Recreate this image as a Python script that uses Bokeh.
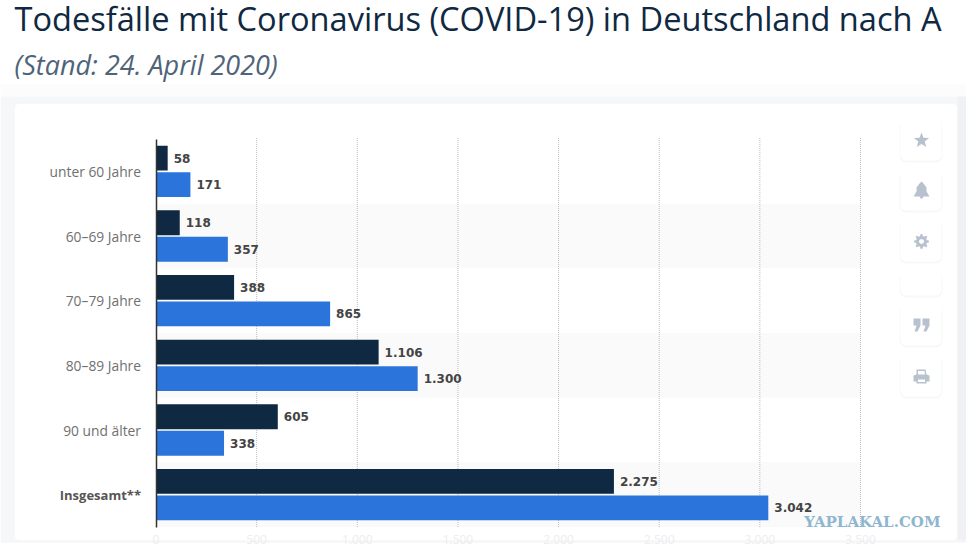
import math
from bokeh.plotting import figure
from bokeh.models import Range1d, Label, BoxAnnotation, PolyAnnotation, ColumnDataSource, FixedTicker
from bokeh.embed import file_html
from bokeh.resources import INLINE

TITLE = "Todesfälle mit Coronavirus (COVID-19) in Deutschland nach A"
SUBTITLE = "(Stand: 24. April 2020)"
WATERMARK = "YAPLAKAL.COM"
categories = ["unter 60 Jahre", "60–69 Jahre", "70–79 Jahre", "80–89 Jahre", "90 und älter", "Insgesamt**"]
series_dark = [58, 118, 388, 1106, 605, 2275]
series_blue = [171, 357, 865, 1300, 338, 3042]
x_ticks = [0, 500, 1000, 1500, 2000, 2500, 3000, 3500]
x_tick_labels = ["0", "500", "1.000", "1.500", "2.000", "2.500", "3.000", "3.500"]

DARK = "#0f2942"
BLUE = "#2a74dc"
ICON = "#b8c2cf"
W, H = 966, 551
LEFT, TOP, RIGHT, BOTTOM = 155.5, 138.5, 860, 526.5  # where the axes' extent sits on the canvas
n = len(categories)
row_pos = list(range(n - 1, -1, -1))  # top row first
x_scale = (RIGHT - LEFT) / x_ticks[-1]
y_scale = (BOTTOM - TOP) / n
low = -0.5


def fig_fmt(v):
    return f"{v:,}".replace(",", ".")


p = figure(width=W, height=H, output_backend="svg", toolbar_location=None,
           x_range=Range1d(-LEFT / x_scale, (W - LEFT) / x_scale),
           y_range=Range1d(low - (H - BOTTOM) / y_scale, low + n + TOP / y_scale),
           min_border=0, background_fill_color="white", border_fill_color="white", outline_line_color=None)


def sx(px):
    return px


def sy(py):
    return H - py


def box(l, t, r, b, **kw):
    p.add_layout(BoxAnnotation(left=sx(l), right=sx(r), top=sy(t), bottom=sy(b),
                               left_units="screen", right_units="screen", top_units="screen", bottom_units="screen",
                               level="underlay", **kw))


def poly(pts, color=ICON):
    p.add_layout(PolyAnnotation(xs=[sx(a) for a, _ in pts], ys=[sy(b) for _, b in pts],
                                xs_units="screen", ys_units="screen", fill_color=color, fill_alpha=1,
                                line_color=None, level="overlay"))


# page tint and card
box(0, 84, W, 96, fill_color="#fcfcfd", fill_alpha=1, line_color=None)
box(0, 96, W, 540, fill_color="#f6f7f9", fill_alpha=1, line_color=None)
box(957, 96, W, 540, fill_color="#eff1f4", fill_alpha=1, line_color=None)
box(0, 540, W, 542, fill_color="#f4f5f6", fill_alpha=1, line_color=None)
box(14, 103, 957, 540, fill_color="white", fill_alpha=1, line_color="#f1f2f4", line_width=1, border_radius=5)

# action buttons
for t, b in [(119, 160), (170, 210), (220, 261), (271, 295), (304, 345), (355, 396)]:
    box(899, t + 1, 942, b + 2, fill_color="#f0f2f5", fill_alpha=0.5, line_color=None, border_radius=7)
    box(900, t, 941, b, fill_color="white", fill_alpha=1, line_color=None, border_radius=6)

# alternating row bands
band = ColumnDataSource(dict(y=row_pos[1::2], right=[x_ticks[-1]] * 3))
p.hbar(y="y", left=0, right="right", height=1, source=band, fill_color="#fafafa", line_color=None)

# dotted vertical rules at the x ticks
rules = ColumnDataSource(dict(x=x_ticks[1:], y0=[low] * 7, y1=[low + n + 2 / y_scale] * 7))
p.segment(x0="x", x1="x", y0="y0", y1="y1", source=rules, line_color="#bdbdbd", line_width=1, line_dash="1 1")

y_dark = [r + 0.205 for r in row_pos]
y_blue = [r - 0.205 for r in row_pos]
src = ColumnDataSource(dict(y_dark=y_dark, y_blue=y_blue, dark=series_dark, blue=series_blue,
                            dark_l=[fig_fmt(v) for v in series_dark], blue_l=[fig_fmt(v) for v in series_blue]))
p.hbar(y="y_dark", left=0, right="dark", height=0.385, source=src, fill_color=DARK, line_color=None)
p.hbar(y="y_blue", left=0, right="blue", height=0.385, source=src, fill_color=BLUE, line_color=None)
for yy, col, lab in [("y_dark", "dark", "dark_l"), ("y_blue", "blue", "blue_l")]:
    p.text(x=col, y=yy, text=lab, source=src, x_offset=6, text_align="left", text_baseline="middle",
           text_font={"value": "DejaVu Sans"}, text_font_style="bold", text_font_size="12px", text_color="#444444")

# axes, pinned inside the canvas
xa = p.xaxis[0]
xa.fixed_location = low
xa.ticker = FixedTicker(ticks=x_ticks)
xa.major_label_overrides = {t: s for t, s in zip(x_ticks, x_tick_labels)}
xa.axis_line_color = None
xa.major_tick_line_color = None
xa.minor_tick_line_color = None
xa.major_label_standoff = 2
xa.major_label_text_font = "Open Sans"
xa.major_label_text_font_size = "12px"
xa.major_label_text_color = "#eceef0"

ya = p.yaxis[0]
ya.fixed_location = 0
ya.bounds = (low, low + n)
ya.ticker = FixedTicker(ticks=row_pos)
ya.major_label_overrides = {r: c for r, c in zip(row_pos[:-1], categories[:-1])}
ya.major_label_overrides[row_pos[-1]] = " "
ya.axis_line_color = "#333333"
ya.axis_line_width = 1.5
ya.major_tick_line_color = None
ya.minor_tick_line_color = None
ya.major_label_standoff = 9
ya.major_label_text_font = "Open Sans"
ya.major_label_text_font_size = "13.8px"
ya.major_label_text_color = "#707070"

p.xgrid.visible = False
p.ygrid.visible = False

# bold category label
p.add_layout(Label(x=0, y=row_pos[-1], x_offset=-15, text=categories[-1], text_align="right", text_baseline="middle",
                   text_font="Open Sans", text_font_style="bold", text_font_size="13px", text_color="#555555"))

# title, subtitle, watermark
p.add_layout(Label(x=sx(14), y=sy(18), x_units="screen", y_units="screen", text=TITLE, text_baseline="middle",
                   text_font="Open Sans", text_font_size="32.6px", text_color=DARK))
p.add_layout(Label(x=sx(14), y=sy(64), x_units="screen", y_units="screen", text=SUBTITLE, text_baseline="middle",
                   text_font="Open Sans", text_font_style="italic", text_font_size="27px", text_color="#4f6478"))
p.add_layout(Label(x=sx(940), y=sy(521), x_units="screen", y_units="screen", text=WATERMARK, text_align="right",
                   text_baseline="middle", text_font="DejaVu Serif", text_font_style="bold", text_font_size="15px",
                   text_color="#8fb6cf"))

# icons
cx, cy = 921, 140
poly([(cx + (8 if i % 2 == 0 else 3.4) * math.sin(i * math.pi / 5), cy - (8 if i % 2 == 0 else 3.4) * math.cos(i * math.pi / 5)) for i in range(10)])
cx, cy = 921, 190
poly([(cx - 8, cy + 6), (cx - 5, cy + 1), (cx - 5, cy - 3), (cx - 2, cy - 7), (cx, cy - 9), (cx + 2, cy - 7), (cx + 5, cy - 3),
      (cx + 5, cy + 1), (cx + 8, cy + 6), (cx + 2, cy + 6), (cx + 1, cy + 8), (cx - 1, cy + 8), (cx - 2, cy + 6)])
cx, cy = 921, 241
poly([(cx + (7.5 if i % 4 < 2 else 5.5) * math.sin((i - 0.5) * math.pi / 16), cy - (7.5 if i % 4 < 2 else 5.5) * math.cos((i - 0.5) * math.pi / 16)) for i in range(32)])
poly([(cx + 2.6 * math.sin(i * math.pi / 4), cy - 2.6 * math.cos(i * math.pi / 4)) for i in range(8)], "white")
cx, cy = 921, 324
for dx in (-8, 1):
    poly([(cx + dx, cy - 6), (cx + dx + 7, cy - 6), (cx + dx + 7, cy + 1), (cx + dx + 4, cy + 7), (cx + dx + 1, cy + 7), (cx + dx + 3, cy + 1), (cx + dx, cy + 1)])
cx, cy = 921, 376
poly([(cx - 5, cy - 7), (cx + 4, cy - 7), (cx + 5, cy - 2), (cx + 8, cy - 1), (cx + 8, cy + 5), (cx + 5, cy + 5), (cx + 5, cy + 7),
      (cx - 5, cy + 7), (cx - 5, cy + 5), (cx - 8, cy + 5), (cx - 8, cy - 1), (cx - 5, cy - 2)])
poly([(cx - 3.5, cy - 5.5), (cx + 3, cy - 5.5), (cx + 3.5, cy - 2), (cx - 3.5, cy - 2)], "white")
poly([(cx - 3.5, cy + 3), (cx + 3.5, cy + 3), (cx + 3.5, cy + 5.5), (cx - 3.5, cy + 5.5)], "white")

open("out.html", "w").write(file_html(p, INLINE))
